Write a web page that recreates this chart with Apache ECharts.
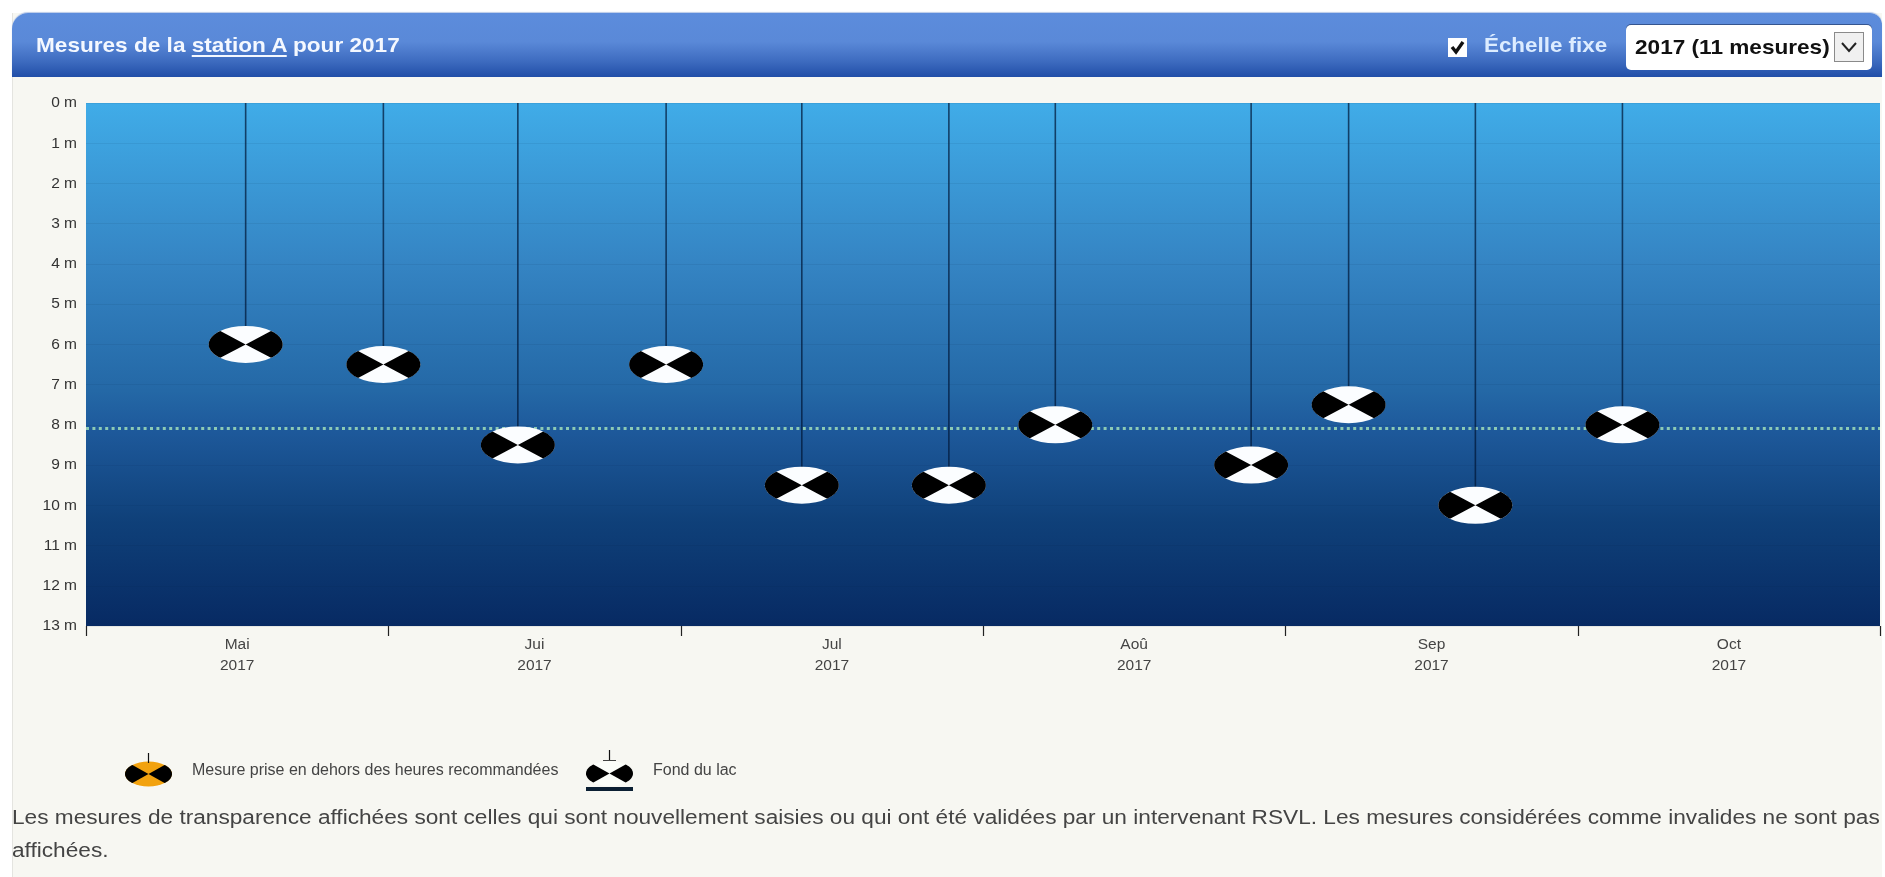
<!DOCTYPE html>
<html lang="fr">
<head>
<meta charset="utf-8">
<title>Mesures de la station A pour 2017</title>
<script src="https://cdn.jsdelivr.net/npm/echarts@6/dist/echarts.min.js"></script>
<style>
html,body{margin:0;padding:0;width:1885px;height:877px;overflow:hidden;background:#fff;font-family:"Liberation Sans",Arial,sans-serif}
#panel{position:absolute;left:12px;top:13px;width:1870px;height:864px;background:#f7f7f2;border-left:1px solid #e4e4e0;box-sizing:border-box}
#head{position:absolute;left:12px;top:13px;width:1870px;height:64px;border-radius:16px 12px 0 0;background:linear-gradient(to bottom,#5c8cdc 0%,#5a89d8 45%,#3e6cc0 75%,#214ea8 100%);box-shadow:0 -1px 1px #b9c9e8}
#title,#fixed,#sel span,#note{transform:scaleX(1.076);transform-origin:0 50%}
#title{position:absolute;left:24px;top:19px;font-size:21px;line-height:26px;font-weight:bold;color:#f4f8ff;white-space:nowrap}
#title u{text-underline-offset:3px}
#fixed{position:absolute;left:1472px;top:19px;font-size:20.8px;line-height:26px;font-weight:bold;color:#dcecff;white-space:nowrap}
#check{position:absolute;left:1436px;top:25px;width:19px;height:19px;background:#fff}
#check svg{display:block}
#sel{position:absolute;left:1614px;top:12px;width:246px;height:45px;background:#fff;border-radius:5px;box-sizing:border-box;box-shadow:0 -1px 0 #35558f}
#sel span{position:absolute;left:9px;top:9px;font-size:21px;line-height:26px;font-weight:bold;color:#111;white-space:nowrap}
#sel i{position:absolute;left:208px;top:7px;width:30px;height:30px;box-sizing:border-box;border:1px solid #8a8a8a;background:#f0f0f0}
#sel svg{display:block}
#chart{position:absolute;left:0;top:0;width:1885px;height:877px}
#note{position:absolute;left:12px;top:800px;font-size:21.05px;line-height:33px;color:#444;white-space:nowrap}
</style>
</head>
<body>
<div id="panel"></div>
<div id="chart"></div>
<div id="head">
  <div id="title">Mesures de la <u>station A</u> pour 2017</div>
  <div id="check"><svg width="19" height="19" viewBox="0 0 19 19"><path d="M4 9 L8 14 L15 4" fill="none" stroke="#111" stroke-width="3.4"/></svg></div>
  <div id="fixed">Échelle fixe</div>
  <div id="sel"><span>2017 (11 mesures)</span><i><svg width="28" height="28" viewBox="0 0 28 28"><path d="M7 10 L14 18 L21 10" fill="none" stroke="#222" stroke-width="2"/></svg></i></div>
</div>
<div id="note">Les mesures de transparence affichées sont celles qui sont nouvellement saisies ou qui ont été validées par un intervenant RSVL. Les mesures considérées comme invalides ne sont pas<br>affichées.</div>
<script>
// Data
var measureDates = ['2017-05-17T09:00','2017-05-31T12:00','2017-06-14T07:00','2017-06-29T12:00','2017-07-13T10:00','2017-07-28T12:00','2017-08-08T10:00','2017-08-28T12:00','2017-09-07T12:00','2017-09-20T12:00','2017-10-05T14:00'];
var depths = [6, 6.5, 8.5, 6.5, 9.5, 9.5, 8, 9, 7.5, 10, 8];
var meanDepth = 8.09;
var monthStarts = ['2017-05-01T00:00','2017-06-01T00:00','2017-07-01T00:00','2017-08-01T00:00','2017-09-01T00:00','2017-10-01T00:00','2017-11-01T00:00'];
var monthCentres = ['2017-05-16T12:00','2017-06-16T00:00','2017-07-16T12:00','2017-08-16T12:00','2017-09-16T00:00','2017-10-16T12:00'];
var monthLabels = ['Mai\n2017','Jui\n2017','Jul\n2017','Aoû\n2017','Sep\n2017','Oct\n2017'];
var legendTexts = ['Mesure prise en dehors des heures recommandées','Fond du lac'];

function ts(s){ return new Date(s).getTime(); }
var measures = measureDates.map(function(d,i){ return [ts(d), depths[i]]; });
var tickValues = monthStarts.map(ts);
var labelValues = monthCentres.map(ts);
var labelByValue = {};
labelValues.forEach(function(v,i){ labelByValue[v] = monthLabels[i]; });

// Disc marking: two black sectors of an ellipse meeting at its centre
var sectorHalfAngle = Math.PI*0.26;
function lobePoints(cx, cy, rx, ry, side){
  var pts = [[cx, cy]], k;
  for (k = -12; k <= 12; k++){
    var a = sectorHalfAngle*k/12;
    pts.push([cx + side*rx*Math.cos(a), cy + ry*Math.sin(a)]);
  }
  return pts;
}
function pathOf(pts){
  return pts.map(function(p,i){ return (i ? 'L' : 'M') + p[0].toFixed(2) + ' ' + p[1].toFixed(2); }).join(' ') + ' Z';
}
var discLobes = pathOf(lobePoints(37,18.5,37,18.5,-1)) + ' ' + pathOf(lobePoints(37,18.5,37,18.5,1));
var lobeHeight = 37*Math.sin(sectorHalfAngle);

function lobe(cx, cy, rx, ry, side){
  return {type:'polygon', silent:true, z:10, shape:{points:lobePoints(cx,cy,rx,ry,side)}, style:{fill:'#000'}};
}
function ell(cx,cy,rx,ry,fill){
  return {type:'circle', silent:true, z:9, scaleY:ry/rx, x:cx, y:cy, shape:{cx:0,cy:0,r:rx}, style:{fill:fill}};
}
function ln(x1,y1,x2,y2,w,c){
  return {type:'line', silent:true, z:11, shape:{x1:x1,y1:y1,x2:x2,y2:y2}, style:{stroke:c||'#111',lineWidth:w}};
}
function txt(x,y,t){
  return {type:'text', silent:true, z:11, x:x, y:y, style:{text:t,fill:'#444',font:'16px "Liberation Sans", Arial, sans-serif',verticalAlign:'middle'}};
}

var chart = echarts.init(document.getElementById('chart'), null, {renderer:'canvas', width:1885, height:877});
chart.setOption({
  animation:false,
  backgroundColor:'transparent',
  grid:{left:86, right:5, top:103, height:523, show:true, borderWidth:0,
    backgroundColor:new echarts.graphic.LinearGradient(0,0,0,1,[
      {offset:0,color:'#40ace8'},
      {offset:0.3,color:'#3585c4'},
      {offset:0.55,color:'#2468a6'},
      {offset:0.62,color:'#1e5a9c'},
      {offset:0.8,color:'#0f4079'},
      {offset:1,color:'#072a63'}
    ])},
  xAxis:{type:'value', min:tickValues[0], max:tickValues[tickValues.length-1], scale:true,
    axisLine:{show:false, onZero:false},
    axisTick:{show:true, length:10, customValues:tickValues, lineStyle:{color:'#222',width:1.2}},
    splitLine:{show:false}, minorTick:{show:false},
    axisLabel:{show:true, customValues:labelValues, margin:8, hideOverlap:false,
      color:'#444', fontFamily:'"Liberation Sans", Arial, sans-serif', fontSize:15.5, lineHeight:21, align:'center',
      formatter:function(v){ return labelByValue[v] || ''; }}
  },
  yAxis:{type:'value', inverse:true, min:0, max:13, interval:1,
    axisLine:{show:false}, axisTick:{show:false},
    splitLine:{show:true, lineStyle:{color:'rgba(0,25,60,0.07)',width:1}},
    axisLabel:{margin:9, padding:[5,0,0,0], color:'#333', fontFamily:'"Liberation Sans", Arial, sans-serif', fontSize:15.5, formatter:'{value} m'}
  },
  series:[
    {name:'Moyenne', type:'line', z:2, showSymbol:false, silent:true,
     data:[[tickValues[0],meanDepth],[tickValues[tickValues.length-1],meanDepth]],
     lineStyle:{color:'#8ccab4',width:3,type:[3,3.4]}},
    {name:'Tige', type:'bar', z:3, silent:true, barWidth:1.6, data:measures,
     itemStyle:{color:'rgba(0,24,56,0.72)'}},
    {name:'Disque', type:'scatter', z:4, silent:true, symbol:'circle', symbolSize:[74,37], data:measures,
     itemStyle:{color:'#fbfdff',opacity:1}},
    {name:'Secteurs', type:'scatter', z:5, silent:true, symbol:'path://'+discLobes, symbolSize:[74,lobeHeight], data:measures,
     itemStyle:{color:'#000',opacity:1}}
  ],
  graphic:{elements:[
    ln(148.5,753,148.5,763,1.2),
    ell(148.5,774,23.5,12.5,'#f2a20f'),
    lobe(148.5,774,23.5,12.5,-1),
    lobe(148.5,774,23.5,12.5,1),
    txt(192,771,legendTexts[0]),
    ln(609.5,750,609.5,760,1.2),
    ln(603,760.5,616,760.5,1,'#444'),
    ell(609.5,773.5,23.5,12.5,'#fbfdf9'),
    lobe(609.5,773.5,23.5,12.5,-1),
    lobe(609.5,773.5,23.5,12.5,1),
    {type:'rect', silent:true, z:11, shape:{x:586,y:787,width:47,height:4}, style:{fill:'#0b1f33'}},
    txt(653,771,legendTexts[1])
  ]}
});
</script>
</body>
</html>
